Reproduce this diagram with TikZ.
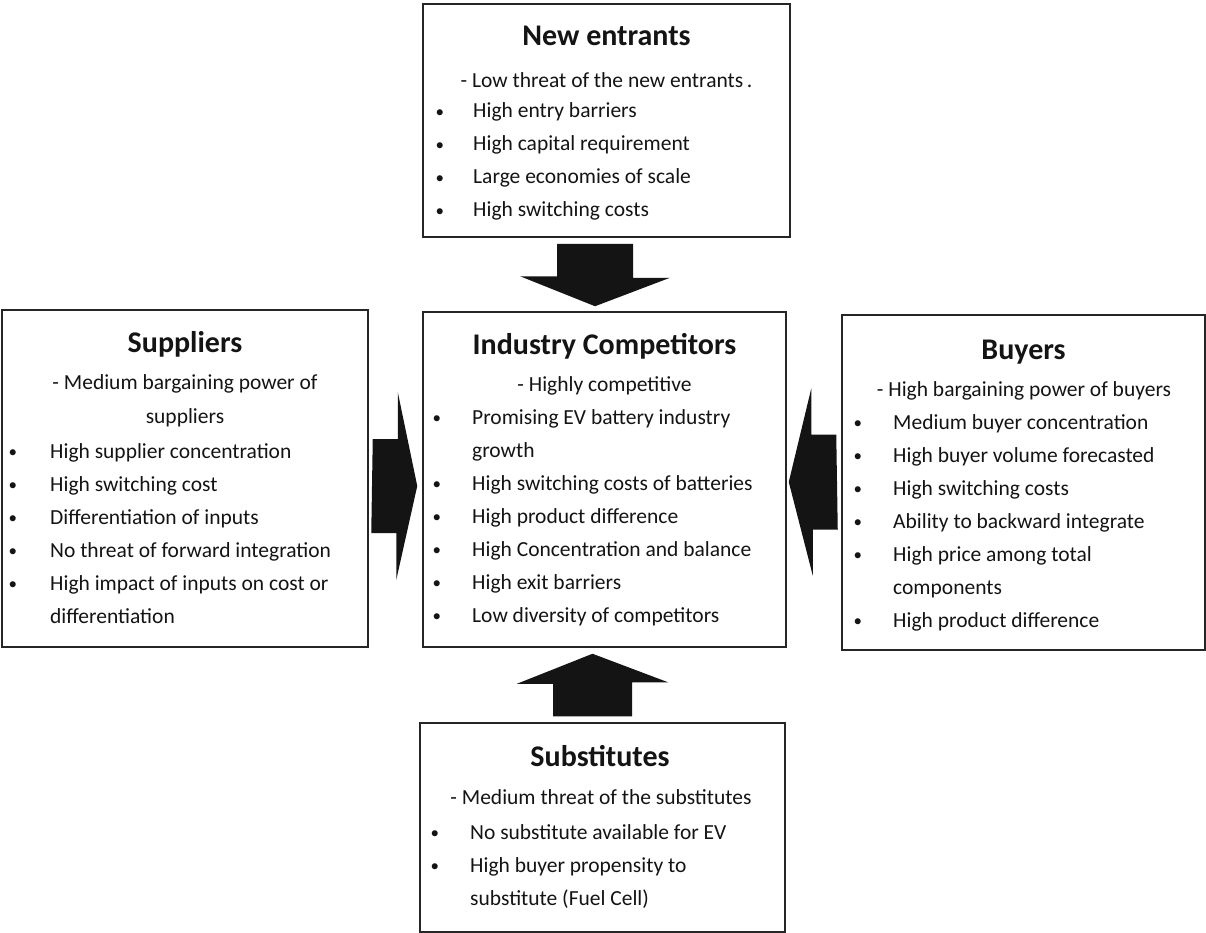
\documentclass[tikz,border=0pt]{standalone}
\usepackage{fontspec}
\setmainfont{Carlito}
\usetikzlibrary{calc}

\newcommand\bodyfont{\fontsize{21.5}{26}\selectfont}
\newcommand\headfont{\bfseries\fontsize{30}{36}\selectfont}
% a slightly smaller bullet, centred on the x-height
\newcommand\smallbullet{\raisebox{0.8pt}{\fontsize{17}{20}\selectfont\textbullet}}

\tikzset{
  box/.style={draw=black!85, line width=1.5pt, fill=white, inner sep=0pt},
  head/.style={anchor=base, inner sep=0pt, font=\headfont, text=black!92},
  sub/.style={anchor=base, inner sep=0pt, font=\bodyfont, text=black!92},
  item/.style={anchor=base west, inner sep=0pt, font=\bodyfont, text=black!92,
    execute at begin node={\llap{\smallbullet\hspace{#1}}}},
  item/.default=31pt,
  cont/.style={anchor=base west, inner sep=0pt, font=\bodyfont, text=black!92},
  blockarrow/.style={fill=black!92, draw=none}
}

\begin{document}
\begin{tikzpicture}[x=1pt, y=-1pt]
\useasboundingbox[fill=white] (0,0) rectangle (1206,933);

% the five force boxes
\node[box, minimum width=367, minimum height=233] (ne)  at (606.5,120.5) {};
\node[box, minimum width=366, minimum height=337] (sup) at (185,478.5) {};
\node[box, minimum width=363, minimum height=335] (ic)  at (604.5,479.5) {};
\node[box, minimum width=363, minimum height=335] (buy) at (1023.5,482.5) {};
\node[box, minimum width=365, minimum height=209] (sbs) at (602.5,827.5) {};

% New entrants
\node[head] (ne-h) at (606.5,46) {New entrants};
\node[sub]  (ne-s) at (606.5,88) {- Low threat of the new entrants\,.};
\node[item=29pt] (ne-1) at (473,118) {High entry barriers};
\node[item=29pt] (ne-2) at (473,151) {High capital requirement};
\node[item=29pt] (ne-3) at (473,184) {Large economies of scale};
\node[item=29pt] (ne-4) at (473,217) {High switching costs};

% Suppliers
\node[head] (sup-h)  at (185,352) {Suppliers};
\node[sub]  (sup-s1) at (185,389) {- Medium bargaining power of};
\node[sub]  (sup-s2) at (185,423) {suppliers};
\node[item=33pt] (sup-1) at (50,458) {High supplier concentration};
\node[item=33pt] (sup-2) at (50,491) {High switching cost};
\node[item=33pt] (sup-3) at (50,524) {Differentiation of inputs};
\node[item=33pt] (sup-4) at (50,557) {No threat of forward integration};
\node[item=33pt] (sup-5) at (50,590) {High impact of inputs on cost or};
\node[cont]      (sup-6) at (50,623) {differentiation};

% Industry competitors
\node[head] (ic-h) at (604.5,354) {Industry Competitors};
\node[sub]  (ic-s) at (604.5,391) {- Highly competitive};
\node[item] (ic-1) at (472,424) {Promising EV battery industry};
\node[cont] (ic-2) at (472,457) {growth};
\node[item] (ic-3) at (472,490) {High switching costs of batteries};
\node[item] (ic-4) at (472,523) {High product difference};
\node[item] (ic-5) at (472,556) {High Concentration and balance};
\node[item] (ic-6) at (472,589) {High exit barriers};
\node[item] (ic-7) at (472,622) {Low diversity of competitors};

% Buyers
\node[head] (buy-h) at (1023.5,359) {Buyers};
\node[sub]  (buy-s) at (1024,396) {- High bargaining power of buyers};
\node[item] (buy-1) at (893,429) {Medium buyer concentration};
\node[item] (buy-2) at (893,462) {High buyer volume forecasted};
\node[item] (buy-3) at (893,495) {High switching costs};
\node[item] (buy-4) at (893,528) {Ability to backward integrate};
\node[item] (buy-5) at (893,561) {High price among total};
\node[cont] (buy-6) at (893,594) {components};
\node[item] (buy-7) at (893,627) {High product difference};

% Substitutes
\node[head] (sbs-h) at (600,766) {Substitutes};
\node[sub]  (sbs-s) at (601,804) {- Medium threat of the substitutes};
\node[item] (sbs-1) at (470,839) {No substitute available for EV};
\node[item] (sbs-2) at (470,872) {High buyer propensity to};
\node[cont] (sbs-3) at (470,905) {substitute (Fuel Cell)};

% block arrows pointing at the industry box
\coordinate (a1) at ($(ne.south)+(-11.5,6)$);
\coordinate (t1) at ($(ic.north)+(-9.5,-5)$);
\fill[blockarrow] ($(a1)+(-38,0)$) -- ++(76,0) -- ++(0,34) -- ++(37,0) -- (t1)
  -- ++(-75,-30) -- ++(37,0) -- cycle;

\coordinate (a2) at ($(sup.east)+(4,7.5)$);
\coordinate (t2) at ($(ic.west)+(-5,6.5)$);
\fill[blockarrow] ($(a2)+(0,-47)$) -- ++(25,0) -- ++(0,-47) -- (t2)
  -- ++(-21,94) -- ++(0,-47) -- ++(-25,0) -- cycle;

\coordinate (a3) at ($(buy.west)+(-5,-0.5)$);
\coordinate (t3) at ($(ic.east)+(2,2.5)$);
\fill[blockarrow] ($(a3)+(0,-47.5)$) -- ++(-25,0) -- ++(0,-46) -- (t3)
  -- ++(24,93.5) -- ++(0,-46) -- ++(25,0) -- cycle;

\coordinate (a4) at ($(sbs.north)+(-10,-6)$);
\coordinate (t4) at ($(ic.south)+(-12,6)$);
\fill[blockarrow] ($(a4)+(-39.5,0)$) -- ++(79,0) -- ++(0,-34) -- ++(36,0) -- (t4)
  -- ++(-75.5,30) -- ++(36,0) -- cycle;
\end{tikzpicture}
\end{document}
